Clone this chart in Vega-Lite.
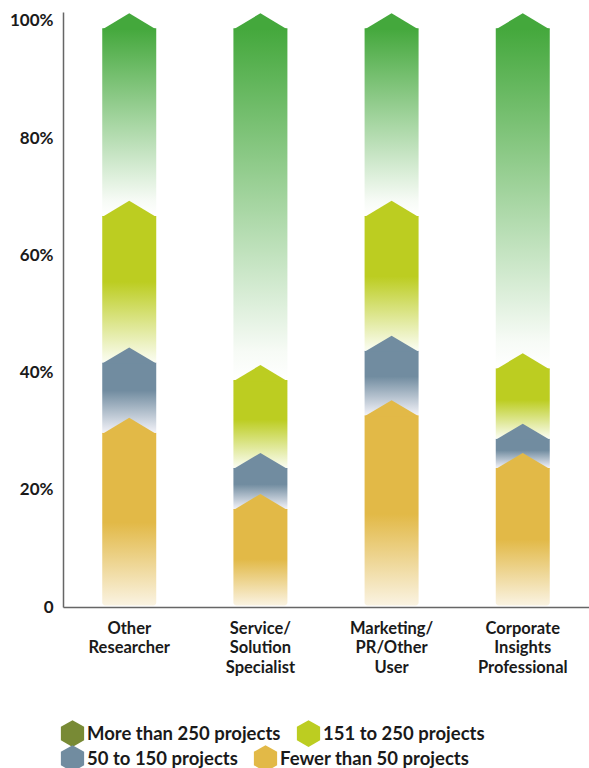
{
  "$schema": "https://vega.github.io/schema/vega-lite/v6.json",
  "width": 526,
  "height": 595,
  "autosize": {"type": "none"},
  "padding": {"left": 63, "top": 12, "right": 0, "bottom": 161},
  "background": "white",
  "config": {"view": {"stroke": null}, "font": "Lato"},
  "data": {
    "values": [
      {"role": "Other Researcher", "series": "Fewer than 50 projects", "rank": 1, "pct": 31},
      {"role": "Other Researcher", "series": "50 to 150 projects", "rank": 2, "pct": 12},
      {"role": "Other Researcher", "series": "151 to 250 projects", "rank": 3, "pct": 25},
      {"role": "Other Researcher", "series": "More than 250 projects", "rank": 4, "pct": 32},
      {"role": "Service/Solution Specialist", "series": "Fewer than 50 projects", "rank": 1, "pct": 18},
      {"role": "Service/Solution Specialist", "series": "50 to 150 projects", "rank": 2, "pct": 7},
      {"role": "Service/Solution Specialist", "series": "151 to 250 projects", "rank": 3, "pct": 15},
      {"role": "Service/Solution Specialist", "series": "More than 250 projects", "rank": 4, "pct": 60},
      {"role": "Marketing/PR/Other User", "series": "Fewer than 50 projects", "rank": 1, "pct": 34},
      {"role": "Marketing/PR/Other User", "series": "50 to 150 projects", "rank": 2, "pct": 11},
      {"role": "Marketing/PR/Other User", "series": "151 to 250 projects", "rank": 3, "pct": 23},
      {"role": "Marketing/PR/Other User", "series": "More than 250 projects", "rank": 4, "pct": 32},
      {"role": "Corporate Insights Professional", "series": "Fewer than 50 projects", "rank": 1, "pct": 25},
      {"role": "Corporate Insights Professional", "series": "50 to 150 projects", "rank": 2, "pct": 5},
      {"role": "Corporate Insights Professional", "series": "151 to 250 projects", "rank": 3, "pct": 12},
      {"role": "Corporate Insights Professional", "series": "More than 250 projects", "rank": 4, "pct": 58}
    ]
  },
  "transform": [
    {"stack": "pct", "groupby": ["role"], "sort": [{"field": "rank", "order": "ascending"}], "as": ["lo", "hi"]}
  ],
  "encoding": {
    "x": {
      "field": "role",
      "type": "nominal",
      "sort": ["Other Researcher", "Service/Solution Specialist", "Marketing/PR/Other User", "Corporate Insights Professional"],
      "scale": {"paddingInner": 0.59, "paddingOuter": 0.3},
      "axis": {
        "title": null,
        "domainColor": "#666666",
        "domainWidth": 1.5,
        "ticks": false,
        "labelAngle": 0,
        "labelFont": "Lato",
        "labelFontSize": 16.5,
        "labelFontWeight": "bold",
        "labelColor": "#1a1a1a",
        "labelPadding": 13,
        "labelLineHeight": 19.5,
        "labelBaseline": "top",
        "labelExpr": "datum.value == 'Other Researcher' ? ['Other','Researcher'] : datum.value == 'Service/Solution Specialist' ? ['Service/','Solution','Specialist'] : datum.value == 'Marketing/PR/Other User' ? ['Marketing/','PR/Other','User'] : ['Corporate','Insights','Professional']"
      }
    },
    "y": {
      "field": "hi",
      "type": "quantitative",
      "scale": {"domain": [0, 101.5], "nice": false, "zero": true},
      "axis": {
        "title": null,
        "values": [0, 20, 40, 60, 80, 100],
        "labelExpr": "datum.value == 0 ? '0' : datum.value + '%'",
        "ticks": false,
        "grid": false,
        "domainColor": "#666666",
        "domainWidth": 1.5,
        "labelFont": "Lato",
        "labelFontSize": 17,
        "labelFontWeight": "bold",
        "labelColor": "#1a1a1a",
        "labelPadding": 10
      }
    }
  },
  "layer": [
    {
      "transform": [{"filter": "datum.rank == 1"}],
      "mark": {
        "type": "bar", "width": 54, "yOffset": 7.5, "y2Offset": -1.5,
        "cornerRadiusBottomLeft": 3, "cornerRadiusBottomRight": 3,
        "fill": {"gradient": "linear", "x1": 0, "y1": 1, "x2": 0, "y2": 0,
          "stops": [{"offset": 0, "color": "#faf3e2"}, {"offset": 0.48, "color": "#e2b947"}, {"offset": 1, "color": "#e2b947"}]}
      },
      "encoding": {"y2": {"field": "lo"}}
    },
    {
      "transform": [{"filter": "datum.rank == 2"}],
      "mark": {
        "type": "bar", "width": 54, "yOffset": 7.5, "y2Offset": 7.5,
        "fill": {"gradient": "linear", "x1": 0, "y1": 1, "x2": 0, "y2": 0,
          "stops": [{"offset": 0, "color": "#f2f2f8"}, {"offset": 0.6, "color": "#718ca0"}, {"offset": 1, "color": "#718ca0"}]}
      },
      "encoding": {"y2": {"field": "lo"}}
    },
    {
      "transform": [{"filter": "datum.rank == 3"}],
      "mark": {
        "type": "bar", "width": 54, "yOffset": 7.5, "y2Offset": 7.5,
        "fill": {"gradient": "linear", "x1": 0, "y1": 1, "x2": 0, "y2": 0,
          "stops": [{"offset": 0, "color": "#fbfdf3"}, {"offset": 0.55, "color": "#bccd21"}, {"offset": 1, "color": "#bccd21"}]}
      },
      "encoding": {"y2": {"field": "lo"}}
    },
    {
      "transform": [{"filter": "datum.rank == 4"}],
      "mark": {
        "type": "bar", "width": 54, "yOffset": 7.5, "y2Offset": 7.5,
        "fill": {"gradient": "linear", "x1": 0, "y1": 1, "x2": 0, "y2": 0,
          "stops": [{"offset": 0, "color": "#ffffff"}, {"offset": 0.08, "color": "#f7fbf6"}, {"offset": 1, "color": "#44a83c"}]}
      },
      "encoding": {"y2": {"field": "lo"}}
    },
    {
      "transform": [{"filter": "datum.rank == 1"}],
      "mark": {"type": "point", "shape": "M-1,0.32L0,-0.278L1,0.32Z", "size": 2916, "filled": true, "opacity": 1, "strokeWidth": 0, "fill": "#e2b947"},
      "encoding": {}
    },
    {
      "transform": [{"filter": "datum.rank == 2"}],
      "mark": {"type": "point", "shape": "M-1,0.32L0,-0.278L1,0.32Z", "size": 2916, "filled": true, "opacity": 1, "strokeWidth": 0, "fill": "#718ca0"},
      "encoding": {}
    },
    {
      "transform": [{"filter": "datum.rank == 3"}],
      "mark": {"type": "point", "shape": "M-1,0.32L0,-0.278L1,0.32Z", "size": 2916, "filled": true, "opacity": 1, "strokeWidth": 0, "fill": "#bccd21"},
      "encoding": {}
    },
    {
      "transform": [{"filter": "datum.rank == 4"}],
      "mark": {"type": "point", "shape": "M-1,0.32L0,-0.278L1,0.32Z", "size": 2916, "filled": true, "opacity": 1, "strokeWidth": 0, "fill": "#44a83c"},
      "encoding": {}
    },
    {
      "transform": [{"filter": "datum.rank >= 3"}],
      "mark": {"type": "point", "filled": true, "opacity": 0, "size": 484, "shape": "M0,-1L0.866,-0.5L0.866,0.5L0,1L-0.866,0.5L-0.866,-0.5Z"},
      "encoding": {
        "color": {
          "field": "series", "type": "nominal",
          "scale": {"domain": ["More than 250 projects", "151 to 250 projects"], "range": ["#788a35", "#bccd21"]},
          "legend": {
            "orient": "none", "legendX": -4, "legendY": 708,
            "direction": "horizontal",
            "title": null,
            "symbolType": "M0,-1L0.866,-0.5L0.866,0.5L0,1L-0.866,0.5L-0.866,-0.5Z",
            "symbolSize": 720, "symbolOpacity": 1, "symbolStrokeWidth": 0,
            "labelFont": "Lato", "labelFontSize": 18.5, "labelFontWeight": "bold", "labelColor": "#1a1a1a",
            "labelOffset": 1, "columnPadding": 14, "labelLimit": 300
          }
        }
      }
    },
    {
      "transform": [{"filter": "datum.rank <= 2"}],
      "mark": {"type": "point", "filled": true, "opacity": 0, "size": 484, "shape": "M0,-1L0.866,-0.5L0.866,0.5L0,1L-0.866,0.5L-0.866,-0.5Z"},
      "encoding": {
        "color": {
          "field": "series", "type": "nominal",
          "scale": {"domain": ["50 to 150 projects", "Fewer than 50 projects"], "range": ["#718ca0", "#e2b947"]},
          "legend": {
            "orient": "none", "legendX": -4, "legendY": 733,
            "direction": "horizontal",
            "title": null,
            "symbolType": "M0,-1L0.866,-0.5L0.866,0.5L0,1L-0.866,0.5L-0.866,-0.5Z",
            "symbolSize": 720, "symbolOpacity": 1, "symbolStrokeWidth": 0,
            "labelFont": "Lato", "labelFontSize": 18.5, "labelFontWeight": "bold", "labelColor": "#1a1a1a",
            "labelOffset": 1, "columnPadding": 14, "labelLimit": 300
          }
        }
      }
    }
  ],
  "resolve": {"scale": {"color": "independent"}, "legend": {"color": "independent"}}
}
